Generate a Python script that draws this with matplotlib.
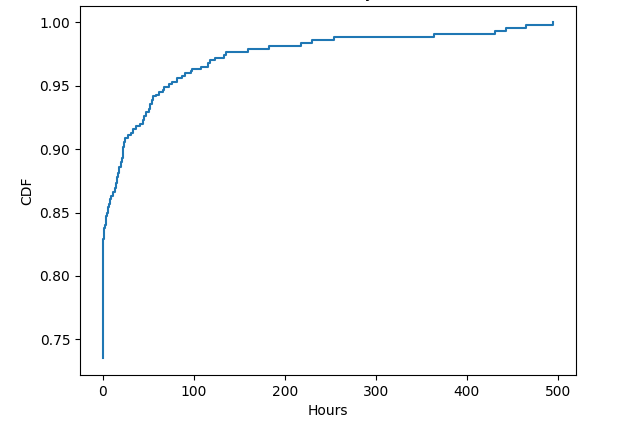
import matplotlib
matplotlib.use("Agg")
import matplotlib.pyplot as plt

hours = [0.0, 0.05, 0.1, 0.2, 0.4, 0.6, 0.8, 1.0, 1.5, 2.0, 2.5, 3.5, 4.0,
         5.0, 6.0, 7.0, 8.0, 9.0, 12.0, 14.0, 15.0, 16.0, 17.5, 18.5, 20.0,
         21.0, 22.0, 22.7, 24.0, 25.0, 28.0, 31.0, 33.0, 37.0, 41.0, 44.0,
         46.0, 48.0, 51.0, 52.0, 54.0, 55.0, 59.0, 62.0, 66.0, 68.0, 73.0,
         76.0, 82.0, 87.0, 91.0, 97.0, 98.0, 108.0, 116.0, 118.0, 123.0,
         133.5, 136.0, 160.0, 183.0, 217.5, 230.0, 254.5, 364.0, 431.0,
         443.0, 464.5, 495.0]
cdf = [0.735, 0.760, 0.780, 0.795, 0.805, 0.815, 0.822, 0.829, 0.834, 0.838,
       0.840, 0.843, 0.847, 0.850, 0.854, 0.857, 0.861, 0.863, 0.866, 0.869,
       0.873, 0.878, 0.881, 0.886, 0.890, 0.893, 0.897, 0.902, 0.906, 0.909,
       0.911, 0.913, 0.916, 0.918, 0.920, 0.923, 0.926, 0.929, 0.932, 0.936,
       0.939, 0.942, 0.943, 0.945, 0.947, 0.949, 0.951, 0.953, 0.956, 0.958,
       0.960, 0.962, 0.963, 0.965, 0.968, 0.970, 0.972, 0.9745, 0.977,
       0.979, 0.9816, 0.984, 0.986, 0.9888, 0.991, 0.9934, 0.9958, 0.998,
       1.0]

fig = plt.figure(figsize=(6.4, 4.28), dpi=100)
# original was a default 640x480 figure with the top cropped off
ax = fig.add_axes([0.125, 0.1234, 0.775, 0.8636])
ax.step(hours, cdf, where="post")
ax.set_title("Fix Latency")
ax.set_xlabel("Hours")
ax.set_ylabel("CDF")

fig.savefig("out.png", dpi=100)
